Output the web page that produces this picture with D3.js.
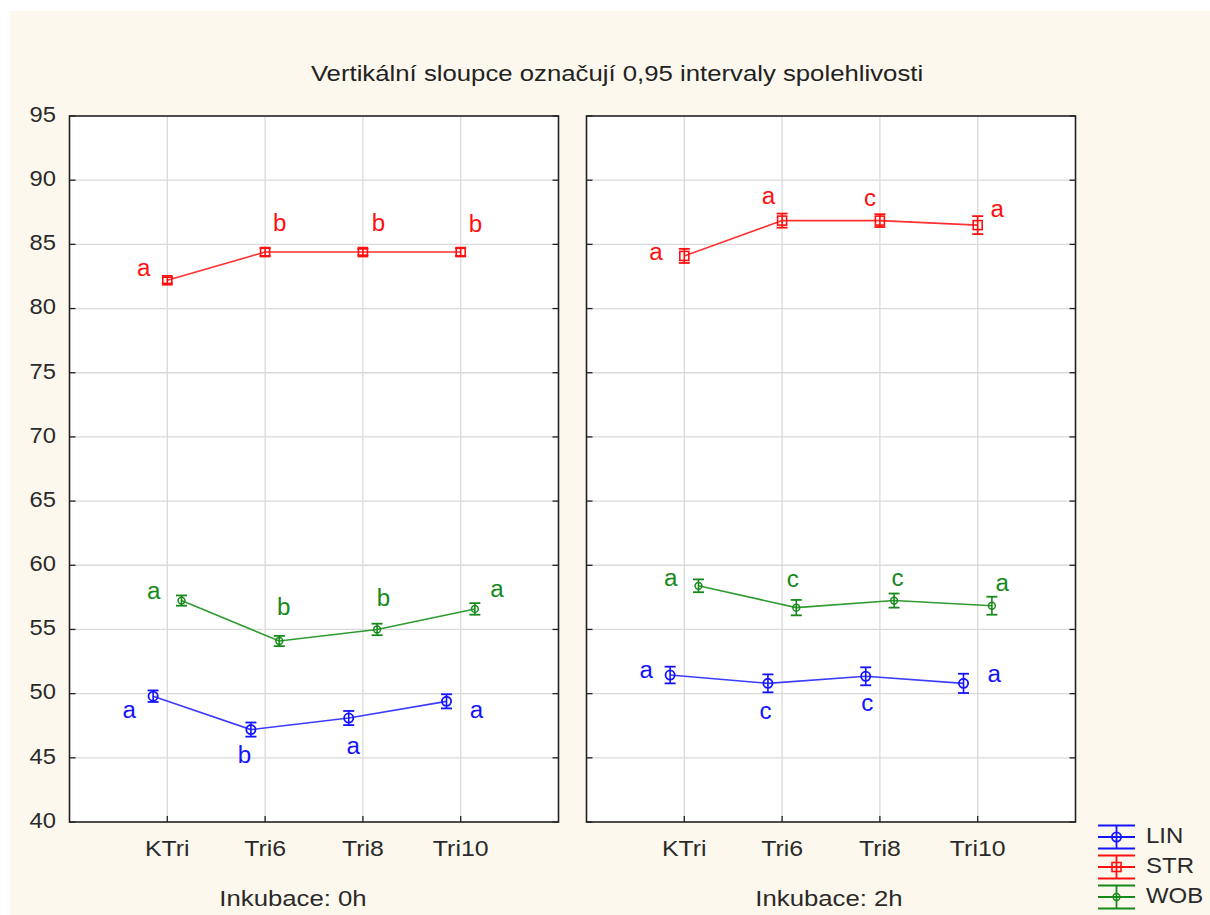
<!DOCTYPE html>
<html><head><meta charset="utf-8">
<script src="https://cdn.jsdelivr.net/npm/d3@7"></script>
<style>
body{margin:0;background:#fff}
svg{display:block}
text{font-family:"Liberation Sans",Arial,sans-serif}
</style>
</head><body>
<svg id="c" width="1210" height="915"></svg>
<script>
// ---------------- DATA ----------------
const title = "Vertikální sloupce označují 0,95 intervaly spolehlivosti";
const categories = ["KTri", "Tri6", "Tri8", "Tri10"];
const panelNames = ["Inkubace: 0h", "Inkubace: 2h"];
const seriesNames = ["LIN", "STR", "WOB"];
const yTicks = [40, 45, 50, 55, 60, 65, 70, 75, 80, 85, 90, 95];

// Inkubace 0h
const lin0 = [49.8, 47.2, 48.1, 49.4];
const lin0Err = [0.45, 0.55, 0.55, 0.55];
const str0 = [82.2, 84.4, 84.4, 84.4];
const str0Err = [0.25, 0.3, 0.25, 0.3];
const wob0 = [57.25, 54.1, 55.0, 56.6];
const wob0Err = [0.4, 0.4, 0.45, 0.45];
// Inkubace 2h
const lin2 = [51.45, 50.8, 51.35, 50.8];
const lin2Err = [0.65, 0.7, 0.7, 0.75];
const str2 = [84.1, 86.85, 86.85, 86.5];
const str2Err = [0.55, 0.55, 0.5, 0.7];
const wob2 = [58.4, 56.7, 57.25, 56.85];
const wob2Err = [0.5, 0.6, 0.55, 0.7];

// significance letters
const lin0Letters = ["a", "b", "a", "a"];
const str0Letters = ["a", "b", "b", "b"];
const wob0Letters = ["a", "b", "b", "a"];
const lin2Letters = ["a", "c", "c", "a"];
const str2Letters = ["a", "a", "c", "a"];
const wob2Letters = ["a", "c", "c", "a"];

// letter anchor positions in data units: [category coordinate, value]
const lin0LetterPos = [[0.61, 48.55], [1.79, 45.05], [2.90, 45.75], [4.16, 48.55]];
const str0LetterPos = [[0.76, 83.0], [2.15, 86.55], [3.16, 86.55], [4.15, 86.45]];
const wob0LetterPos = [[0.86, 57.85], [2.19, 56.6], [3.21, 57.3], [4.37, 58.0]];
const lin2LetterPos = [[0.61, 51.7], [1.83, 48.5], [2.87, 49.1], [4.17, 51.4]];
const str2LetterPos = [[0.71, 84.25], [1.86, 88.6], [2.90, 88.45], [4.20, 87.6]];
const wob2LetterPos = [[0.86, 58.85], [2.11, 58.75], [3.18, 58.85], [4.25, 58.45]];

// ---------------- BUILD ----------------
const panelsData = [
  {name: panelNames[0], series: [
    {name: "LIN", vals: lin0, err: lin0Err, letters: lin0Letters, lpos: lin0LetterPos},
    {name: "STR", vals: str0, err: str0Err, letters: str0Letters, lpos: str0LetterPos},
    {name: "WOB", vals: wob0, err: wob0Err, letters: wob0Letters, lpos: wob0LetterPos}]},
  {name: panelNames[1], series: [
    {name: "LIN", vals: lin2, err: lin2Err, letters: lin2Letters, lpos: lin2LetterPos},
    {name: "STR", vals: str2, err: str2Err, letters: str2Letters, lpos: str2LetterPos},
    {name: "WOB", vals: wob2, err: wob2Err, letters: wob2Letters, lpos: wob2LetterPos}]}
];

const style = {
  LIN: {color: "#1414ff", line: "#3c3cff", offset: -0.145, marker: "circleL"},
  STR: {color: "#ff1010", line: "#ff3030", offset: 0, marker: "square"},
  WOB: {color: "#16891a", line: "#2f9a2f", offset: 0.145, marker: "circleS"}
};
const textColor = "#2a2a2a";

const svg = d3.select("#c");
svg.append("rect").attr("x", 10).attr("y", 11).attr("width", 1200).attr("height", 904).attr("fill", "#fdf8ed");

// horizontally stretched text helper (reference glyphs are wider than Liberation Sans)
function stext(sel, x, yy, size, sx, anchor, color, str) {
  return sel.append("text")
    .attr("transform", `translate(${x},${yy}) scale(${sx},1)`)
    .attr("text-anchor", anchor).attr("dominant-baseline", "middle")
    .attr("font-size", size).attr("fill", color).text(str);
}

stext(svg, 617, 75, 22, 1.17, "middle", "#222", title);

const panelLeft = [69.5, 586.5];
const panelW = 489;
const plotTop = 116, plotBottom = 822;
const panelLabelX = [293, 829];
const y = d3.scaleLinear().domain([40, 95]).range([plotBottom, plotTop]);

function drawMarker(g, type, cx, cy, color) {
  if (type === "circleL") {
    g.append("circle").attr("cx", cx).attr("cy", cy).attr("r", 4.6)
      .attr("fill", "none").attr("stroke", color).attr("stroke-width", 1.8);
  } else if (type === "circleS") {
    g.append("circle").attr("cx", cx).attr("cy", cy).attr("r", 3.4)
      .attr("fill", "none").attr("stroke", color).attr("stroke-width", 1.5);
  } else {
    g.append("rect").attr("x", cx - 4.5).attr("y", cy - 4.5).attr("width", 9).attr("height", 9)
      .attr("fill", "none").attr("stroke", color).attr("stroke-width", 1.6);
  }
}

panelsData.forEach((p, pi) => {
  const x0 = panelLeft[pi];
  const x = d3.scaleLinear().domain([0, 5]).range([x0, x0 + panelW]);
  const g = svg.append("g");
  g.append("rect").attr("x", x0).attr("y", plotTop).attr("width", panelW).attr("height", plotBottom - plotTop).attr("fill", "#fff");

  // grid
  g.selectAll(".hg").data(yTicks.slice(1, -1)).enter().append("line")
    .attr("x1", x0).attr("x2", x0 + panelW).attr("y1", d => y(d)).attr("y2", d => y(d))
    .attr("stroke", "#dadada").attr("stroke-width", 1.3);
  g.selectAll(".vg").data(categories).enter().append("line")
    .attr("x1", (d, i) => x(i + 1)).attr("x2", (d, i) => x(i + 1)).attr("y1", plotTop).attr("y2", plotBottom)
    .attr("stroke", "#dadada").attr("stroke-width", 1.3);

  // ticks inside
  g.selectAll(".lt").data(yTicks).enter().append("line")
    .attr("x1", x0).attr("x2", x0 + 6).attr("y1", d => y(d)).attr("y2", d => y(d))
    .attr("stroke", "#222").attr("stroke-width", 1.3);
  g.selectAll(".rt").data(yTicks).enter().append("line")
    .attr("x1", x0 + panelW - 6).attr("x2", x0 + panelW).attr("y1", d => y(d)).attr("y2", d => y(d))
    .attr("stroke", "#222").attr("stroke-width", 1.3);
  g.selectAll(".bt").data(categories).enter().append("line")
    .attr("x1", (d, i) => x(i + 1)).attr("x2", (d, i) => x(i + 1)).attr("y1", plotBottom - 6).attr("y2", plotBottom)
    .attr("stroke", "#222").attr("stroke-width", 1.3);

  // border
  g.append("rect").attr("x", x0).attr("y", plotTop).attr("width", panelW).attr("height", plotBottom - plotTop)
    .attr("fill", "none").attr("stroke", "#222").attr("stroke-width", 1.6);

  // x tick labels
  categories.forEach((c, i) => stext(g, x(i + 1), 850, 22, 1.13, "middle", textColor, c));

  // panel label
  stext(g, panelLabelX[pi], 900, 22, 1.17, "middle", textColor, p.name);

  // y labels for first panel
  if (pi === 0) {
    yTicks.forEach(t => stext(g, 56, y(t), 22, 1.08, "end", textColor, t));
  }

  // series
  p.series.forEach(s => {
    const st = style[s.name];
    const px = i => x(i + 1 + st.offset);
    const line = d3.line().x((d, i) => px(i)).y(d => y(d));
    g.append("path").attr("d", line(s.vals)).attr("fill", "none")
      .attr("stroke", st.line).attr("stroke-width", 1.6);
    s.vals.forEach((v, i) => {
      const cx = px(i), lo = y(v - s.err[i]), hi = y(v + s.err[i]);
      g.append("line").attr("x1", cx).attr("x2", cx).attr("y1", lo).attr("y2", hi)
        .attr("stroke", st.color).attr("stroke-width", 1.6);
      [lo, hi].forEach(yy => g.append("line").attr("x1", cx - 5.5).attr("x2", cx + 5.5)
        .attr("y1", yy).attr("y2", yy).attr("stroke", st.color).attr("stroke-width", 1.8));
      drawMarker(g, st.marker, cx, y(v), st.color);
    });
    s.letters.forEach((L, i) => {
      stext(g, x(s.lpos[i][0]), y(s.lpos[i][1]), 23, 1.05, "middle", st.color, L);
    });
  });
});

// legend
const legY = d3.scalePoint().domain(seriesNames).range([837, 897]);
seriesNames.forEach(n => {
  const st = style[n], cy = legY(n), lx = 1098, rx = 1135, mx = 1116.5;
  const lg = svg.append("g");
  [cy - 11.5, cy, cy + 11.5].forEach(yy => lg.append("line").attr("x1", lx).attr("x2", rx)
    .attr("y1", yy).attr("y2", yy).attr("stroke", st.color).attr("stroke-width", 1.8));
  lg.append("line").attr("x1", mx).attr("x2", mx).attr("y1", cy - 11.5).attr("y2", cy + 11.5)
    .attr("stroke", st.color).attr("stroke-width", 1.8);
  drawMarker(lg, st.marker, mx, cy, st.color);
  stext(lg, 1146, cy, 22, 1.09, "start", textColor, n);
});
</script>
</body></html>
